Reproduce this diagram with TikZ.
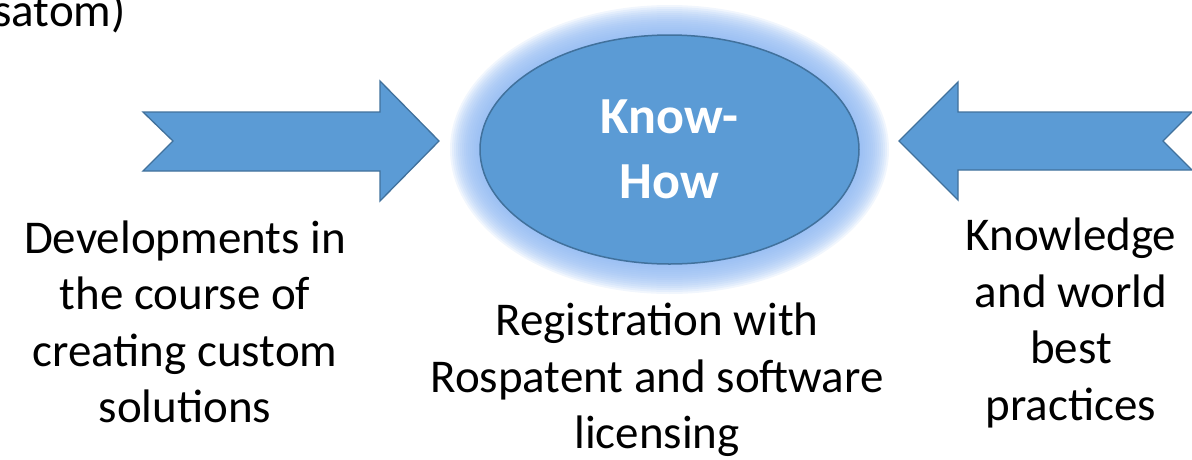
\documentclass[tikz,border=0pt]{standalone}
\usepackage{fontspec}
\setmainfont{Carlito}
\usetikzlibrary{shapes.geometric}
\definecolor{fillblue}{HTML}{5B9BD5}
\definecolor{edgeblue}{HTML}{41719C}
\definecolor{glowblue}{HTML}{8FB8F2}
\tikzset{
  blockarrow/.style={fill=fillblue, draw=edgeblue, line width=1.3pt, line join=miter},
  label/.style={align=center, font=\fontsize{47}{56.5}\selectfont, text=black, inner sep=0pt},
  core/.style={ellipse, fill=fillblue, draw=edgeblue, line width=1.5pt,
    minimum width=379pt, minimum height=229pt, inner sep=0pt,
    font=\fontsize{52}{65}\selectfont\bfseries, text=white, align=center}
}
\begin{document}
\begin{tikzpicture}[x=1pt,y=-1pt]
\useasboundingbox (0,0) rectangle (1192,459);
% glow
\foreach \i in {0,...,15}{
  \fill[glowblue, opacity=0.13] (669.5,149.5) ellipse ({189.5+2*\i} and {114.5+2*\i});
}
\node[core] (kh) at (669.5,149.5) {Know-\\How};
% left block arrow
\draw[blockarrow] (143,112) -- (380,112) -- (380,81) -- (439,141) -- (380,201) -- (380,171) -- (143,171) -- (173,141) -- cycle;
% right block arrow
\draw[blockarrow] (899,141) -- (958,82) -- (958,112) -- (1192,112) -- (1163,141) -- (1192,170) -- (958,170) -- (958,200) -- cycle;
% texts
\node[label, anchor=base east] (top) at (126,26) {satom)};
\node[label] (left) at (185,322) {Developments in\\the course of\\creating custom\\solutions};
\node[label] (mid) at (657,380) {Registration with\\Rospatent and software\\licensing};
\node[label] (right) at (1071,323) {Knowledge\\and world\\best\\practices};
\end{tikzpicture}
\end{document}
